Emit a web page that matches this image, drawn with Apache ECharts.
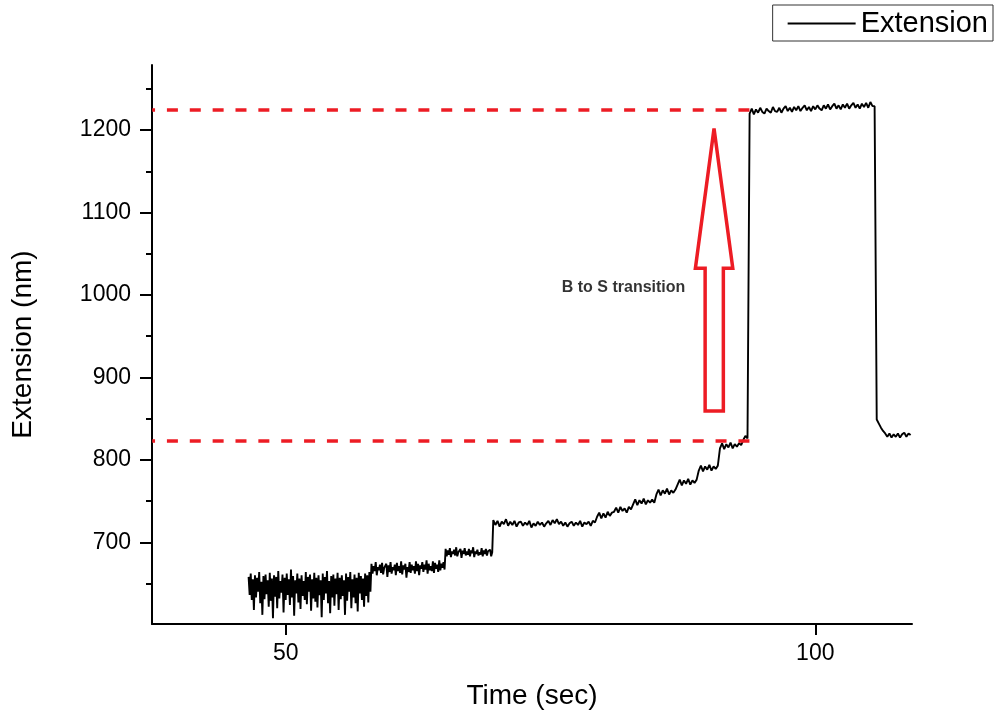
<!DOCTYPE html>
<html>
<head>
<meta charset="utf-8">
<script src="https://cdn.jsdelivr.net/npm/echarts@6/dist/echarts.min.js"></script>
<style>
html,body{margin:0;padding:0;background:#fff;}
#chart{width:998px;height:719px;}
</style>
</head>
<body>
<div id="chart"></div>
<script>
// ---- data ----
// Extension trace, sampled at regular time steps inside each segment
const seg1Start = 46.5, seg1Step = 0.1;
const seg1 = [658,636,662,630,655,618,660,633,657,640,664,626,652,612,659,631,661,637,654,622,
663,629,656,608,660,634,658,620,665,632,653,639,661,615,657,630,662,636,655,624,
667,633,659,611,654,638,662,627,656,619,660,635,653,630,664,625,658,640,661,617,
655,632,663,628,657,621,660,636,654,609,662,630,658,638,665,626,653,614,659,633,
661,623,656,637,663,618,657,631,660,635,654,612,662,629,658,640,664,620,655,633,
661,626,657,616,663,638,659,630,656,622,662,635,660,627,664,640];
const seg2Start = 58.1, seg2Step = 0.1;
const seg2 = [674,662,671,665,676,660,670,666,673,663,675,661,669,667,674,658,672,664,676,662,
670,666,673,660,675,665,671,663,677,661,672,667,674,657,670,664,676,663,673,666,
671,662,677,665,674,660,672,668,676,664,673,667,678,662,674,666,671,665,677,663,
675,668,673,664,678,666,674,669,676,667];
const seg3Start = 65.1, seg3Step = 0.1;
const seg3 = [692,683,690,685,693,682,689,686,691,684,694,683,688,687,692,681,690,686,693,684,
689,685,692,683,690,687,694,682,689,686,691,684,688,685,693,683,690,686,692,684,
689,687,691,683,688];
const seg4Start = 69.6, seg4Step = 0.2;
const seg4 = [727,721,726,719,725,722,728,720,725,721,726,719,724,725,720,724,721,726,718,723,
720,725,721,724,719,723,726,721,727,723,728,722,725,720,724,719,723,725,720,724,
721,726,719,724,722,725,720,726,724,
731,736,729,735,730,737,732,736,
737,742,736,743,738,741,736,743,740,
746,752,745,751,747,753,746,751,748,752,748,
758,764,757,763,759,765,758,763,760,764,
770,776,769,775,771,777,770,775,772,776,
787,793,786,792,788,794,787,792,789,793,
814,820,813,819,815,821,814,819,816,820,818,
824,829,826];
const topStart = 93.8, topStep = 0.2;
const topSeg = [1220,1226,1219,1225,1221,1227,1222,1220,1226,1223,1221,1228,1223,1222,1227,1221,1226,1229,1223,1227,
1222,1228,1224,1229,1223,1227,1230,1224,1228,1223,1229,1225,1230,1226,1224,1230,1226,1231,1225,1229,
1232,1226,1230,1225,1231,1227,1232,1226,1230,1233,1227,1231,1226,1232,1228,1233,1227,1234,1229,1229];
const tailStart = 105.8, tailStep = 0.2;
const tailSeg = [849,844,839,835,832,828,832,827,831,828,832,827,831,833,828,832,830];

// reference (dashed) levels
const refStart = 37.4, refEnd = 93.8;
const upperLevel = 1224.3;
const lowerLevel = 822.9;

// hollow arrow outline (time, extension)
const arrowX = [90.44, 92.21, 91.32, 91.32, 89.6, 89.6, 88.68, 90.44];
const arrowY = [1202, 1032.3, 1032.3, 859.2, 859.2, 1032.3, 1032.3, 1202];

// annotation
const noteText = 'B to S transition';
const notePos = [81.9, 1009];

// axes
const xTicks = [50, 100];
const yTicks = [700, 800, 900, 1000, 1100, 1200];
const yMinorTicks = [650, 750, 850, 950, 1050, 1150, 1250];
const xMin = 37.38, xMax = 109.13;
const yMin = 600.9, yMax = 1278.9;

// ---- build ----
function buildSeg(start, step, vals) {
  return vals.map((v, i) => [Math.round((start + i * step) * 100) / 100, v]);
}
const trace = [].concat(
  buildSeg(seg1Start, seg1Step, seg1),
  buildSeg(seg2Start, seg2Step, seg2),
  buildSeg(seg3Start, seg3Step, seg3),
  buildSeg(seg4Start, seg4Step, seg4),
  buildSeg(topStart, topStep, topSeg),
  buildSeg(tailStart, tailStep, tailSeg)
);
const arrowData = arrowX.map((x, i) => [x, arrowY[i]]);

const red = '#ed1c24';
const font = "'Liberation Sans', Arial, sans-serif";
const dashPeriod = 22.86;

const chart = echarts.init(document.getElementById('chart'), null, {renderer: 'canvas'});
chart.setOption({
  animation: false,
  backgroundColor: '#fff',
  grid: {left: 152, right: 86, top: 65, bottom: 95},
  legend: {
    data: ['Extension'],
    right: 5, top: 5,
    orient: 'horizontal',
    itemWidth: 68, itemHeight: 14,
    padding: [4, 5, 3, 14],
    borderColor: '#333', borderWidth: 1,
    itemStyle: {opacity: 0},
    textStyle: {fontFamily: font, fontSize: 29, color: '#000'}
  },
  xAxis: {
    type: 'value', min: xMin, max: xMax,
    name: 'Time (sec)', nameLocation: 'middle', nameGap: 58,
    nameTextStyle: {fontFamily: font, fontSize: 28, color: '#000'},
    axisLine: {show: true, onZero: false, lineStyle: {color: '#000', width: 2}},
    axisTick: {show: true, customValues: xTicks, length: 11, lineStyle: {color: '#000', width: 2}},
    axisLabel: {customValues: xTicks, fontFamily: font, fontSize: 23, color: '#000', margin: 18},
    splitLine: {show: false}
  },
  yAxis: [{
    type: 'value', min: yMin, max: yMax,
    name: 'Extension (nm)', nameLocation: 'middle', nameGap: 115, nameRotate: 90,
    nameTextStyle: {fontFamily: font, fontSize: 28, color: '#000'},
    axisLine: {show: true, onZero: false, lineStyle: {color: '#000', width: 2}},
    axisTick: {show: true, customValues: yTicks, length: 12, lineStyle: {color: '#000', width: 2}},
    axisLabel: {customValues: yTicks, formatter: v => String(v), fontFamily: font, fontSize: 23, color: '#000', margin: 21},
    splitLine: {show: false}
  }, {
    type: 'value', min: yMin, max: yMax, position: 'left',
    axisLine: {show: false},
    axisTick: {show: true, customValues: yMinorTicks, length: 6, lineStyle: {color: '#000', width: 2}},
    axisLabel: {show: false},
    splitLine: {show: false}
  }],
  series: [{
    name: 'Extension', type: 'line', data: trace,
    symbol: 'none', showSymbol: false, sampling: null, z: 2,
    lineStyle: {color: '#000', width: 1.9},
    itemStyle: {color: '#000'}
  }, {
    name: 'upper', type: 'line', data: [[refStart, upperLevel], [refEnd, upperLevel]],
    symbol: 'none', z: 5,
    lineStyle: {color: red, width: 3.5, type: [11, dashPeriod - 11], dashOffset: 8.16}
  }, {
    name: 'lower', type: 'line', data: [[refStart, lowerLevel], [refEnd, lowerLevel]],
    symbol: 'none', z: 5,
    lineStyle: {color: red, width: 3.5, type: [11, dashPeriod - 11], dashOffset: 8.16}
  }, {
    name: 'arrow', type: 'line', data: arrowData,
    symbol: 'none', z: 5,
    lineStyle: {color: red, width: 3.5, join: 'miter'}
  }, {
    name: 'note', type: 'scatter', data: [notePos],
    symbolSize: 0, z: 6,
    label: {show: true, position: 'inside', formatter: noteText,
      fontFamily: font, fontWeight: 'bold', fontSize: 16, color: '#000'}
  }]
});
</script>
</body>
</html>
